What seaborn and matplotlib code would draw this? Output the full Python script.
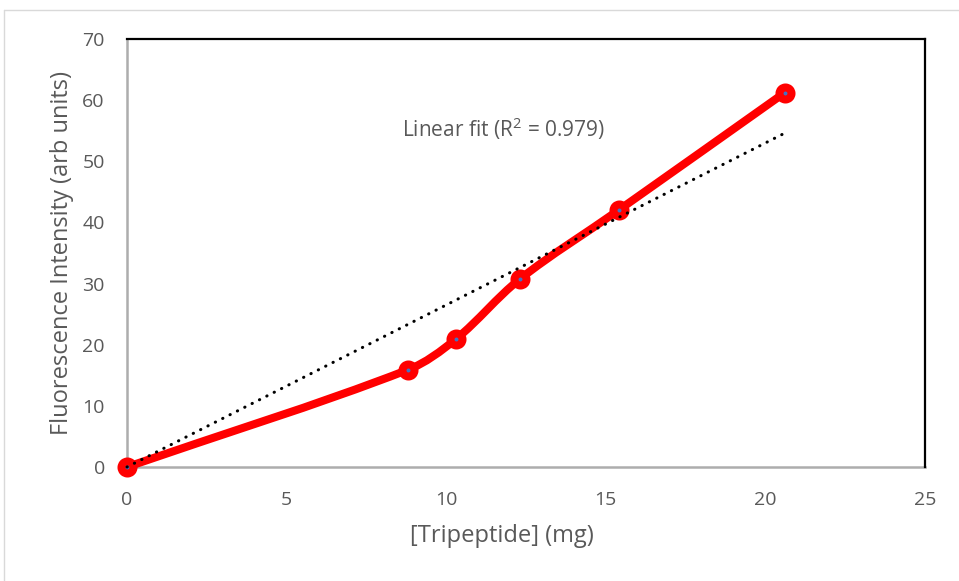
import matplotlib
matplotlib.use("Agg")
import matplotlib.pyplot as plt
from matplotlib.path import Path
from matplotlib.patches import PathPatch
import numpy as np
import pandas as pd
import seaborn as sns

# data
tripeptide_mg = [0, 8.8, 10.3, 12.3, 15.4, 20.6]
intensity = [0, 15.9, 20.9, 30.7, 42.0, 61.2]
fit_label = "Linear fit (R$^2$ = 0.979)"
x_ticks = [0, 5, 10, 15, 20, 25]
y_ticks = [0, 10, 20, 30, 40, 50, 60, 70]

df = pd.DataFrame({"x": tripeptide_mg, "y": intensity})

sns.set_theme(style="white")
plt.rcParams["font.family"] = ["Open Sans", "DejaVu Sans"]
plt.rcParams["mathtext.fontset"] = "custom"
plt.rcParams["mathtext.rm"] = "Open Sans"
text_grey = "#595959"

fig = plt.figure(figsize=(9.59, 5.81), dpi=100)
ax = fig.add_axes([127 / 959, 114 / 581, 798 / 959, 428 / 581])
ax.set_xlim(0, 25)
ax.set_ylim(0, 70)


def smooth_path(xs, ys):
    # excel-like smoothed line, built in screen space then mapped back
    pts = ax.transData.transform(np.column_stack([xs, ys]).astype(float))
    n = len(pts)
    verts = [pts[0]]
    codes = [Path.MOVETO]
    for i in range(n - 1):
        p0 = pts[max(i - 1, 0)]
        p1 = pts[i]
        p2 = pts[i + 1]
        p3 = pts[min(i + 2, n - 1)]
        seg = np.linalg.norm(p2 - p1)
        d1 = (p2 - p0) / np.linalg.norm(p2 - p0)
        d2 = (p3 - p1) / np.linalg.norm(p3 - p1)
        c1 = p1 + d1 * seg / 3.0
        c2 = p2 - d2 * seg / 3.0
        verts += [c1, c2, p2]
        codes += [Path.CURVE4] * 3
    verts = ax.transData.inverted().transform(np.array(verts))
    return Path(verts, codes)


line = PathPatch(smooth_path(df["x"], df["y"]), fill=False, edgecolor="#FF0000",
                 lw=5.8, capstyle="round", joinstyle="round", zorder=2,
                 clip_on=False)
ax.add_patch(line)

sns.scatterplot(data=df, x="x", y="y", ax=ax, s=76, color="#4472C4",
                edgecolor="#FF0000", linewidth=5.7, zorder=3, legend=False,
                clip_on=False)

# linear trendline through the origin
x = np.array(tripeptide_mg, dtype=float)
y = np.array(intensity, dtype=float)
slope = (x * y).sum() / (x * x).sum()
fit_x = [0, x.max()]
fit_y = [0, slope * x.max()]
sns.lineplot(x=fit_x, y=fit_y, ax=ax, color="black", lw=2.2,
             linestyle=(0, (0.1, 2.6)), dash_capstyle="round", zorder=4,
             clip_on=False)

ax.text(11.8, 55.4, fit_label, ha="center", va="center", fontsize=15,
        color=text_grey)

ax.set_xticks(x_ticks)
ax.set_yticks(y_ticks)
ax.tick_params(axis="both", length=0, labelsize=14, labelcolor=text_grey)
ax.tick_params(axis="x", pad=17)
ax.tick_params(axis="y", pad=16)
ax.set_xlabel("[Tripeptide] (mg)", fontsize=17, color=text_grey, labelpad=11)
ax.xaxis.label.set_x(0.47)
ax.set_ylabel("Fluorescence Intensity (arb units)", fontsize=17,
              color=text_grey, labelpad=6)

for side in ["top", "right"]:
    ax.spines[side].set_color("black")
    ax.spines[side].set_linewidth(1.6)
for side in ["left", "bottom"]:
    ax.spines[side].set_color("#ADADAD")
    ax.spines[side].set_linewidth(1.8)
    ax.spines[side].set_zorder(1)

# chart-area border, cropped at right and bottom like the reference
fig.add_artist(plt.Line2D([4 / 959, 1], [1 - 10 / 581, 1 - 10 / 581],
                          transform=fig.transFigure, color="#D9D9D9", lw=1))
fig.add_artist(plt.Line2D([4 / 959, 4 / 959], [0, 1 - 10 / 581],
                          transform=fig.transFigure, color="#D9D9D9", lw=1))

fig.savefig("out.png", dpi=100)
